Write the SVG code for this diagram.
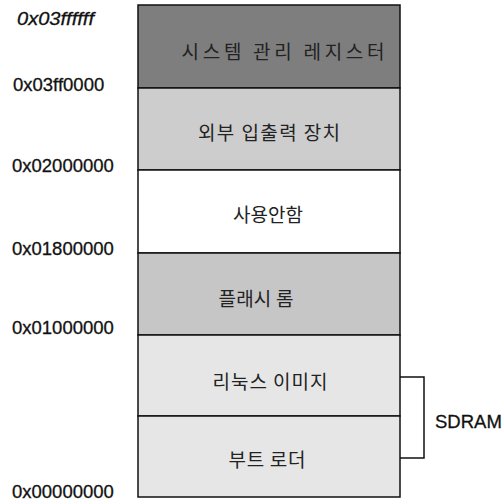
<svg xmlns="http://www.w3.org/2000/svg" width="502" height="503" viewBox="0 0 502 503">
<style>
.addr{font-family:"Liberation Sans",Arial,sans-serif;font-size:18.5px;fill:#111;stroke:#111;stroke-width:0.3}
.lbl{font-family:"Noto Sans CJK KR","Liberation Sans",sans-serif;font-size:19px;fill:#222;text-anchor:middle;dominant-baseline:central}
.blk{stroke:#111;stroke-width:1.5}
.conn{fill:none;stroke:#111;stroke-width:1.5}
</style>
<rect width="502" height="503" fill="#fff"/>
<g id="addresses">
<text class="addr" x="17" y="25" font-style="italic" textLength="77" lengthAdjust="spacingAndGlyphs">0x03ffffff</text>
<text class="addr" x="13" y="91">0x03ff0000</text>
<text class="addr" x="12" y="172">0x02000000</text>
<text class="addr" x="12" y="255">0x01800000</text>
<text class="addr" x="12" y="334">0x01000000</text>
<text class="addr" x="12" y="498">0x00000000</text>
</g>
<g id="sysreg"><rect class="blk" x="138" y="5" width="262" height="83" fill="#7e7e7e"/><text class="lbl" x="283" y="50" fill="#1a1a1a" font-size="21" textLength="203">시스템 관리 레지스터</text></g>
<g id="extio"><rect class="blk" x="138" y="88" width="262" height="82" fill="#cdcdcd"/><text class="lbl" x="269" y="131" textLength="142">외부 입출력 장치</text></g>
<g id="unused"><rect class="blk" x="138" y="170" width="262" height="83" fill="#ffffff"/><text class="lbl" x="268" y="213" textLength="70">사용안함</text></g>
<g id="flash"><rect class="blk" x="138" y="253" width="262" height="82" fill="#c6c6c6"/><text class="lbl" x="256" y="297" textLength="75">플래시 롬</text></g>
<g id="linux"><rect class="blk" x="138" y="335" width="262" height="81" fill="#e6e6e6"/><text class="lbl" x="270" y="380" textLength="115">리눅스 이미지</text></g>
<g id="boot"><rect class="blk" x="138" y="416" width="262" height="81" fill="#e6e6e6"/><text class="lbl" x="267" y="458" textLength="77">부트 로더</text></g>
<g id="connectors">
<polyline class="conn" points="400,377 424,377 424,458 400,458"/>
</g>
<g id="sdram"><text class="addr" x="435" y="428" font-size="18">SDRAM</text></g>
</svg>
